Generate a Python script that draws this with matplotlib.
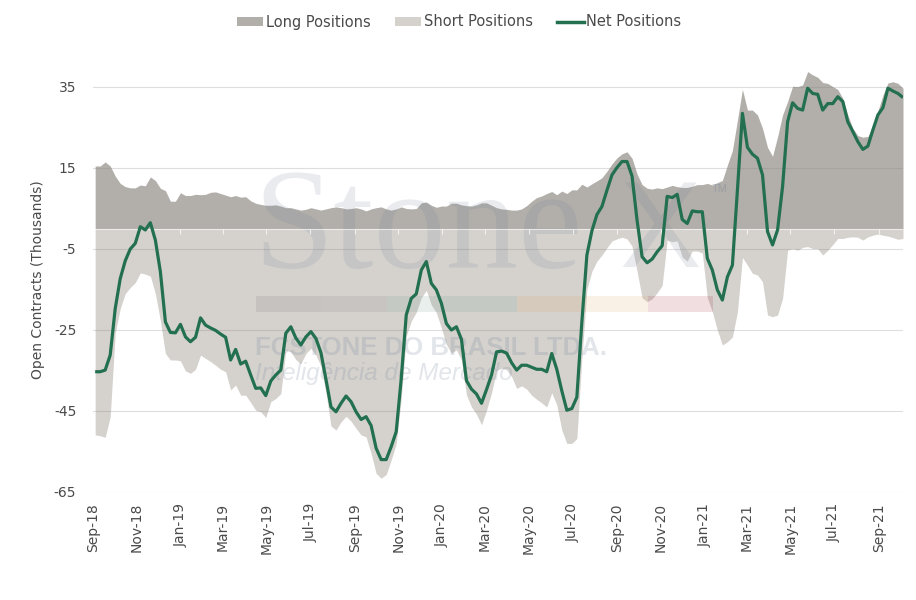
import matplotlib
matplotlib.use('Agg')
import matplotlib.pyplot as plt
import numpy as np
import pandas as pd
from matplotlib.patches import Rectangle, Patch
from matplotlib.lines import Line2D

plt.rcParams['font.family'] = ['DejaVu Sans']
plt.rcParams['axes.unicode_minus'] = False

# ---------------- data (thousand contracts, weekly) ----------------
start_date = '2018-09-04'

long_positions = [
    15.5, 15.5, 16.5, 15.5, 13.0, 11.2, 10.4, 10.1, 10.1, 10.8,
    10.6, 12.8, 11.9, 10.0, 9.4, 6.8, 6.8, 8.9, 8.2, 8.2,
    8.5, 8.4, 8.5, 9.0, 9.1, 8.7, 8.3, 7.9, 8.2, 7.8,
    7.9, 6.9, 6.3, 6.0, 5.8, 5.8, 5.9, 5.6, 5.2, 5.2,
    4.9, 4.6, 4.8, 5.2, 4.9, 4.6, 4.9, 5.2, 5.4, 5.2,
    4.9, 5.0, 5.2, 4.9, 4.4, 4.9, 5.2, 5.4, 4.9, 4.6,
    4.9, 5.4, 5.0, 4.9, 5.0, 6.4, 6.6, 5.8, 5.3, 5.6,
    5.6, 6.3, 6.3, 5.9, 5.7, 5.6, 5.9, 6.4, 6.4, 5.8,
    5.2, 4.9, 4.8, 4.6, 4.6, 4.9, 5.7, 6.8, 7.7, 8.1,
    8.7, 9.2, 8.4, 9.3, 8.7, 9.6, 9.6, 11.0, 10.3, 11.1,
    11.8, 12.6, 14.2, 16.0, 17.5, 18.5, 19.0, 17.4, 13.5, 10.9,
    10.0, 9.8, 10.1, 9.9, 10.3, 10.7, 10.4, 10.2, 10.2, 10.5,
    10.9, 10.9, 11.2, 10.8, 11.4, 11.9, 15.7, 19.3, 26.8, 34.4,
    29.3, 29.3, 28.1, 24.8, 20.1, 17.9, 22.7, 28.1, 31.4, 35.2,
    35.1, 35.5, 38.8, 38.0, 37.4, 36.1, 35.9, 35.1, 34.4, 32.2,
    28.1, 24.8, 23.0, 22.6, 22.8, 25.3, 29.1, 33.0, 36.0, 36.3,
    35.9, 34.7,
]

short_positions = [
    -50.9, -51.1, -51.5, -46.4, -25.8, -19.7, -16.0, -14.5, -13.3, -10.9,
    -11.2, -11.7, -16.0, -22.7, -30.8, -32.4, -32.4, -32.6, -35.1, -35.7,
    -34.7, -31.2, -32.0, -32.8, -33.7, -34.7, -35.3, -39.8, -38.6, -41.1,
    -41.1, -42.9, -44.8, -45.2, -46.6, -42.7, -41.9, -40.7, -30.0, -30.4,
    -32.3, -33.3, -30.8, -29.5, -31.2, -33.9, -40.5, -48.7, -49.7, -47.7,
    -46.3, -47.5, -49.3, -50.9, -51.4, -55.5, -60.4, -61.6, -60.7, -57.1,
    -53.0, -42.0, -26.5, -22.8, -20.6, -17.0, -15.2, -18.8, -20.7, -24.5,
    -28.6, -30.7, -29.9, -32.4, -41.0, -44.0, -45.8, -48.4, -44.8, -40.5,
    -35.0, -34.4, -34.8, -36.5, -39.4, -38.8, -39.6, -41.1, -42.1, -43.0,
    -44.0, -40.5, -43.5, -49.7, -53.0, -53.0, -51.8, -32.0, -15.0, -10.5,
    -8.0, -6.5, -4.7, -3.0, -2.5, -2.1, -2.5, -4.3, -10.5, -17.0,
    -18.0, -17.3, -15.8, -14.0, -2.8, -3.2, -3.0, -7.0, -8.0, -5.5,
    -5.5, -6.0, -17.0, -20.5, -25.0, -28.7, -27.9, -26.7, -20.5, -7.1,
    -9.0, -11.0, -11.4, -13.1, -21.3, -21.7, -21.3, -17.2, -5.3, -4.9,
    -5.3, -4.6, -4.4, -4.9, -4.9, -6.5, -5.3, -3.9, -2.4, -2.4,
    -2.1, -2.0, -2.1, -2.8, -2.0, -1.6, -1.3, -1.6, -1.8, -2.2,
    -2.6, -2.4,
]

net_positions = [
    -35.3, -35.3, -34.9, -31.2, -19.7, -12.3, -7.9, -5.0, -3.6, 0.5,
    -0.3, 1.5, -2.8, -10.6, -23.0, -25.6, -25.7, -23.6, -26.7, -27.9,
    -26.8, -22.0, -23.8, -24.5, -25.1, -26.0, -26.8, -32.4, -29.8, -33.4,
    -32.7, -36.1, -39.4, -39.3, -41.2, -37.6, -36.1, -34.9, -25.8, -24.2,
    -27.0, -28.7, -26.7, -25.4, -27.1, -30.6, -37.2, -44.0, -45.2, -43.1,
    -41.3, -42.7, -45.2, -47.1, -46.4, -48.6, -54.2, -57.0, -57.0, -53.8,
    -50.1, -37.0, -21.3, -17.2, -16.1, -10.2, -8.1, -13.5, -15.1, -18.4,
    -23.4, -25.0, -24.2, -27.3, -37.5, -39.6, -40.8, -43.1, -39.7, -36.1,
    -30.4, -30.2, -30.7, -33.1, -34.9, -33.7, -33.7, -34.2, -34.7, -34.7,
    -35.3, -30.8, -34.7, -40.0, -44.8, -44.4, -41.6, -23.0, -6.5, -0.5,
    3.5, 5.5, 9.5, 13.3, 15.1, 16.6, 16.6, 13.0, 2.1, -6.9,
    -8.4, -7.5, -5.7, -4.2, 8.0, 7.7, 8.5, 2.3, 1.3, 4.4,
    4.2, 4.2, -7.3, -10.2, -15.1, -17.6, -11.9, -9.0, 9.5, 28.5,
    20.1, 18.4, 17.4, 13.3, -0.7, -4.0, -0.3, 10.4, 26.4, 31.1,
    29.7, 29.3, 34.7, 33.4, 33.2, 29.3, 30.9, 30.9, 32.6, 31.4,
    26.4, 24.0, 21.5, 19.6, 20.4, 24.4, 28.1, 29.9, 34.7, 34.0,
    33.4, 32.4,
]

tick_labels = ['Sep-18', 'Nov-18', 'Jan-19', 'Mar-19', 'May-19', 'Jul-19',
               'Sep-19', 'Nov-19', 'Jan-20', 'Mar-20', 'May-20', 'Jul-20',
               'Sep-20', 'Nov-20', 'Jan-21', 'Mar-21', 'May-21', 'Jul-21',
               'Sep-21']
y_ticks = [-65, -45, -25, -5, 15, 35]

series_names = ['Long Positions', 'Short Positions', 'Net Positions']
y_label = 'Open Contracts (Thousands)'

# ---------------- styling ----------------
long_color = '#b2afaa'
short_color = '#d5d2ce'
net_color = '#237050'
text_color = '#4a4a4a'
wm_color = (0.43, 0.49, 0.59)

W, H = 916, 600
fig = plt.figure(figsize=(W / 100, H / 100), dpi=100)
ax_left, ax_right, ax_top, ax_bottom = 93, 903, 46.5, 492
ax = fig.add_axes([ax_left / W, 1 - ax_bottom / H,
                   (ax_right - ax_left) / W, (ax_bottom - ax_top) / H])

def fx(px):
    return px / W

def fy(py):
    return 1 - py / H

dates = pd.date_range(start_date, periods=len(net_positions), freq='7D')
tick_dates = pd.to_datetime(tick_labels, format='%b-%y')

ax.fill_between(dates, 0, long_positions, color=long_color, lw=0, zorder=1)
ax.fill_between(dates, short_positions, 0, color=short_color, lw=0, zorder=1)

# horizontal gridlines (drawn over the areas, semi-transparent)
for yv in y_ticks:
    ax.axhline(yv, color='#808080', alpha=0.26, lw=0.8, zorder=3)
# zero axis line with light tick marks
ax.axhline(0, color='white', alpha=0.55, lw=0.8, zorder=3)
ax.vlines(tick_dates, -1.2, 0, color='white', alpha=0.7, lw=0.8, zorder=3)

# ---- watermark ----
wm_kw = dict(transform=fig.transFigure, color=wm_color, zorder=2.5, clip_on=False)
ax.text(fx(253), fy(268), 'Stone', fontsize=104, family='Liberation Serif',
        alpha=0.15, ha='left', va='baseline', **wm_kw)
ax.text(fx(619), fy(267), 'X', fontsize=88, family='Liberation Sans',
        alpha=0.15, ha='left', va='baseline', **wm_kw)
ax.text(fx(712), fy(192), 'TM', fontsize=8, family='Liberation Sans',
        alpha=0.35, ha='left', va='baseline', **wm_kw)
bar_colors = ['#6a6a6a', '#7a7a7a', '#6a968b', '#6a968b',
              '#dea258', '#dea258', '#9b2330']
seg_w = (713 - 256) / len(bar_colors)
for k, c in enumerate(bar_colors):
    ax.add_patch(Rectangle((fx(256 + k * seg_w), fy(312)), seg_w / W, 16 / H,
                           transform=fig.transFigure, facecolor=c, alpha=0.15,
                           lw=0, zorder=2.5, clip_on=False))
ax.text(fx(255), fy(355), 'FCSTONE DO BRASIL LTDA.', fontsize=18.5,
        family='Liberation Sans', weight='bold', alpha=0.2,
        ha='left', va='baseline', **wm_kw)
ax.text(fx(255), fy(380), 'Inteligência de Mercado', fontsize=17.5,
        family='Liberation Sans', style='italic', alpha=0.2,
        ha='left', va='baseline', **wm_kw)

ax.plot(dates, net_positions, color=net_color, lw=2.3, zorder=5,
        solid_joinstyle='round', solid_capstyle='butt')

ax.set_xlim(dates[0], dates[-1])
ax.set_ylim(-65, 45)
ax.set_yticks(y_ticks)
ax.set_yticklabels([str(v) for v in y_ticks])
ax.set_xticks(tick_dates)
ax.set_xticklabels(tick_labels, rotation=90, ha='center', va='top')
ax.tick_params(axis='both', length=0, colors=text_color, labelsize=10)
ax.tick_params(axis='y', pad=12)
ax.tick_params(axis='x', pad=8)
for s in ax.spines.values():
    s.set_visible(False)
ax.grid(False)
ax.set_facecolor('white')

fig.text(fx(38), fy(280), y_label, rotation=90, ha='center', va='center',
         fontsize=10, color=text_color)

handles = [Patch(facecolor=long_color, edgecolor='none'),
           Patch(facecolor=short_color, edgecolor='none'),
           Line2D([0], [0], color=net_color, lw=2.5)]
leg = fig.legend(handles, series_names, loc='center', bbox_to_anchor=(fx(459), fy(22)),
                 ncol=3, frameon=False, fontsize=10.5, handlelength=1.8,
                 handleheight=0.6, handletextpad=0.15, columnspacing=1.7)
for t in leg.get_texts():
    t.set_color(text_color)

fig.savefig('out.png', dpi=100)
